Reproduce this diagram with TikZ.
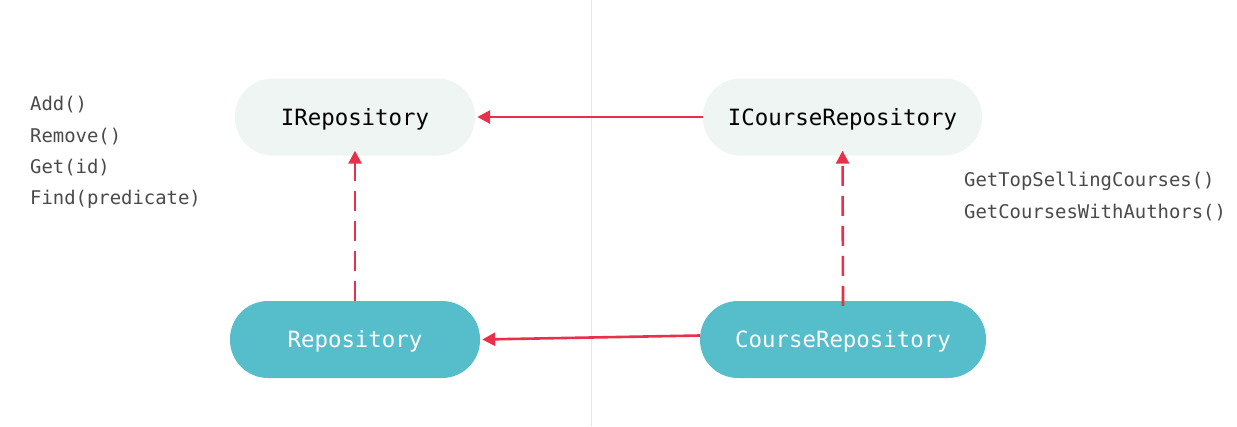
\documentclass[tikz,border=0pt]{standalone}
\usepackage{fontspec}
\setmonofont{DejaVu Sans Mono}
\usetikzlibrary{arrows.meta}
\definecolor{pale}{HTML}{EFF5F2}
\definecolor{tealfill}{HTML}{56BDCA}
\definecolor{arr}{HTML}{E8304A}
\definecolor{txt}{HTML}{4A4A4A}
\definecolor{sep}{HTML}{E6E6E6}
\begin{document}
\begin{tikzpicture}[x=1pt,y=-1pt,
  pill/.style={rectangle,rounded corners=38pt,minimum height=77pt,inner sep=0pt,
    text height=21pt,text depth=5pt,
    font=\fontsize{22.4}{26}\ttfamily},
  iface/.style={pill,fill=pale,text=black},
  impl/.style={pill,fill=tealfill,text=white},
  meth/.style={anchor=west,inner sep=0pt,text=txt,font=\fontsize{18.9}{22}\ttfamily},
  conn/.style={draw=arr,line width=2.6pt,-{Triangle[length=13pt,width=13pt]}},
  dashconn/.style={conn,dash pattern=on 20pt off 10pt}
]
\useasboundingbox (0,0) rectangle (1237,426);
\fill[white] (0,0) rectangle (1237,426);
\coordinate (st) at (591,0);
\coordinate (sb) at (591,426);
\draw[sep,line width=1pt] (st) -- (sb);

\node[iface,minimum width=240pt] (ir) at (355,117) {IRepository};
\node[iface,minimum width=279pt] (icr) at (842.5,117) {ICourseRepository};
\node[impl,minimum width=250pt] (r) at (355,339.5) {Repository};
\node[impl,minimum width=286pt] (cr) at (843,339.5) {CourseRepository};

\node[meth] (m1) at (30,105) {Add()};
\node[meth] (m2) at (30,136.5) {Remove()};
\node[meth] (m3) at (30,168) {Get(id)};
\node[meth] (m4) at (30,199.5) {Find(predicate)};
\node[meth] (m5) at (964,181) {GetTopSellingCourses()};
\node[meth] (m6) at (964,212.5) {GetCoursesWithAuthors()};

\draw[conn] (icr.west) -- ([xshift=2pt]ir.east);
\draw[conn] ([yshift=4pt]cr.west) -- ([xshift=2pt]r.east);
\draw[dashconn] (r.north) -- ([yshift=5pt]ir.south);
\draw[dashconn] ([yshift=-5pt]cr.north) -- ([yshift=5pt]icr.south);
\end{tikzpicture}
\end{document}
